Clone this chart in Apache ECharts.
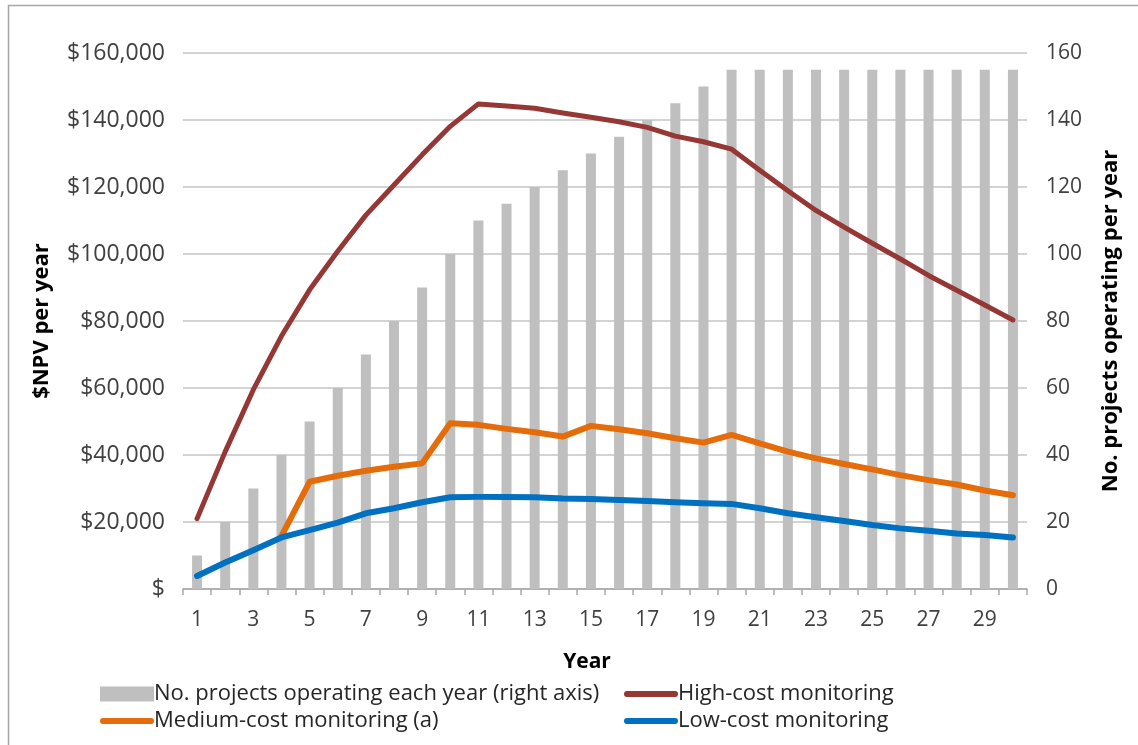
<!DOCTYPE html>
<html>
<head>
<meta charset="utf-8">
<style>
  html, body { margin: 0; padding: 0; background: #ffffff; }
  #chart { width: 1138px; height: 745px; }
</style>
<script src="https://cdn.jsdelivr.net/npm/echarts@6/dist/echarts.min.js"></script>
</head>
<body>
<div id="chart"></div>
<script>
// Years of operation (category axis)
const years = ['1','2','3','4','5','6','7','8','9','10','11','12','13','14','15',
               '16','17','18','19','20','21','22','23','24','25','26','27','28','29','30'];

// Number of projects operating each year (right axis)
const projectsOperating = [10, 20, 30, 40, 50, 60, 70, 80, 90, 100, 110, 115, 120, 125, 130,
                           135, 140, 145, 150, 155, 155, 155, 155, 155, 155, 155, 155, 155, 155, 155];

// $NPV per year under each monitoring cost scenario (left axis)
const highCost = [21000, 41000, 59500, 75500, 89300, 100800, 111600, 120600, 129600, 138100,
                  144800, 144200, 143500, 142100, 140800, 139500, 137800, 135200, 133500, 131300,
                  125000, 118900, 113000, 108000, 103200, 98500, 93600, 89200, 84800, 80300];

const mediumCost = [null, null, null, 15800, 32000, 33800, 35300, 36500, 37500, 49500,
                    49000, 47800, 46800, 45500, 48700, 47700, 46500, 45000, 43700, 46000,
                    43500, 41000, 39000, 37300, 35700, 34000, 32500, 31200, 29400, 28000];

const lowCost = [3900, 7900, 11600, 15400, 17600, 19800, 22600, 24100, 25900, 27400,
                 27500, 27500, 27400, 27000, 26900, 26600, 26300, 25900, 25600, 25400,
                 24100, 22600, 21400, 20300, 19100, 18100, 17400, 16600, 16100, 15400];

const seriesNames = {
  bars: 'No. projects operating each year (right axis)',
  high: 'High-cost monitoring',
  medium: 'Medium-cost monitoring (a)',
  low: 'Low-cost monitoring'
};

const FONT = '"Open Sans", sans-serif';
const TICK_COLOR = '#404040';
const GRID_COLOR = '#c4c4c4';
// thick rounded stroke used as the legend key for the line series
const LINE_KEY = 'path://M3,0 L52,0 A3,3 0 0 1 52,6 L3,6 A3,3 0 0 1 3,0 Z';

const chart = echarts.init(document.getElementById('chart'), null, { renderer: 'canvas' });

function dollars(v) {
  if (v === 0) return '$';
  return '$' + v.toLocaleString('en-US');
}

const legendText = { fontFamily: FONT, fontSize: 22, color: '#262626', padding: [0, 0, 0, -5] };

chart.setOption({
  animation: false,
  backgroundColor: '#ffffff',
  graphic: [{
    type: 'rect',
    shape: { x: 8.5, y: 5.5, width: 1140, height: 760 },
    style: { fill: 'none', stroke: '#a6a6a6', lineWidth: 1.5 },
    silent: true
  }],
  grid: { left: 183, right: 111, top: 53, bottom: 156 },
  legend: [{
    orient: 'vertical',
    left: 95, top: 678,
    itemGap: 5,
    itemWidth: 54, itemHeight: 15,
    textStyle: legendText,
    data: [
      { name: seriesNames.bars, icon: 'rect' },
      { name: seriesNames.medium, icon: LINE_KEY }
    ]
  }, {
    orient: 'vertical',
    left: 619, top: 678,
    itemGap: 5,
    itemWidth: 54, itemHeight: 15,
    textStyle: legendText,
    data: [
      { name: seriesNames.high, icon: LINE_KEY },
      { name: seriesNames.low, icon: LINE_KEY }
    ]
  }],
  xAxis: {
    type: 'category',
    data: years,
    boundaryGap: true,
    name: 'Year',
    nameLocation: 'middle',
    nameGap: 63,
    nameTextStyle: { fontFamily: FONT, fontSize: 21, fontWeight: 'bold', color: '#000000', padding: [0, 36, 0, 0] },
    axisLine: { show: true, lineStyle: { color: '#a6a6a6', width: 1.5 } },
    axisTick: { show: true, alignWithLabel: false, interval: 0, length: 6, lineStyle: { color: '#a6a6a6', width: 1.5 } },
    axisLabel: { interval: 1, margin: 21, fontFamily: FONT, fontSize: 21, color: TICK_COLOR },
    splitLine: { show: false }
  },
  yAxis: [{
    type: 'value',
    min: 0, max: 160000, interval: 20000,
    name: '$NPV per year',
    nameLocation: 'middle',
    nameRotate: 90,
    nameGap: 130,
    nameTextStyle: { fontFamily: FONT, fontSize: 22, fontWeight: 'bold', color: '#000000' },
    axisLine: { show: false },
    axisTick: { show: false },
    axisLabel: { formatter: dollars, margin: 18, fontFamily: FONT, fontSize: 23, color: TICK_COLOR },
    splitLine: { show: true, lineStyle: { color: GRID_COLOR, width: 1.5 } }
  }, {
    type: 'value',
    min: 0, max: 160, interval: 20,
    position: 'right',
    name: 'No. projects operating per year',
    nameLocation: 'middle',
    nameRotate: 90,
    nameGap: 73,
    nameTextStyle: { fontFamily: FONT, fontSize: 22, fontWeight: 'bold', color: '#000000' },
    axisLine: { show: false },
    axisTick: { show: false },
    axisLabel: { margin: 19, fontFamily: FONT, fontSize: 21, color: TICK_COLOR },
    splitLine: { show: false }
  }],
  series: [{
    name: seriesNames.bars,
    type: 'bar',
    yAxisIndex: 1,
    data: projectsOperating,
    barWidth: 10,
    itemStyle: { color: '#bfbfbf' },
    z: 1
  }, {
    name: seriesNames.high,
    type: 'line',
    data: highCost,
    symbol: 'none',
    showSymbol: false,
    lineStyle: { color: '#953735', width: 5, cap: 'round', join: 'round' },
    itemStyle: { color: '#953735' },
    z: 3
  }, {
    name: seriesNames.medium,
    type: 'line',
    data: mediumCost,
    symbol: 'none',
    showSymbol: false,
    lineStyle: { color: '#e46c0a', width: 6, cap: 'round', join: 'round' },
    itemStyle: { color: '#e46c0a' },
    z: 4
  }, {
    name: seriesNames.low,
    type: 'line',
    data: lowCost,
    symbol: 'none',
    showSymbol: false,
    lineStyle: { color: '#0070c0', width: 6, cap: 'round', join: 'round' },
    itemStyle: { color: '#0070c0' },
    z: 5
  }]
});
</script>
</body>
</html>
